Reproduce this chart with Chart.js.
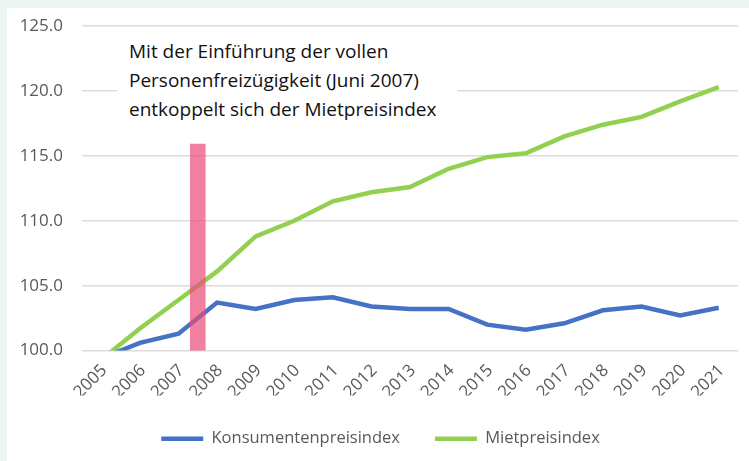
<!DOCTYPE html>
<html>
<head>
<meta charset="utf-8">
<script src="https://cdn.jsdelivr.net/npm/chart.js@4/dist/chart.umd.min.js"></script>
<style>
  html, body { margin:0; padding:0; }
  body { width:749px; height:461px; background:#eef6f2; position:relative; overflow:hidden; }
  #panel { position:absolute; left:7px; top:8px; width:742px; height:453px; background:#fff; }
  #note {
    position:absolute; left:117px; top:37px; width:340px; height:86px;
    background:#fff; padding-left:12px; box-sizing:border-box;
    font-family:"Open Sans", sans-serif; font-size:19px; line-height:29px; color:#111;
  }
</style>
</head>
<body>
<div id="panel"><canvas id="chart" width="742" height="453"></canvas></div>
<div id="note">Mit der Einführung der vollen<br>Personenfreizügigkeit (Juni 2007)<br>entkoppelt sich der Mietpreisindex</div>
<script>
// Konsumentenpreisindex vs. Mietpreisindex (2005 = 100)
const years = [2005,2006,2007,2008,2009,2010,2011,2012,2013,2014,2015,2016,2017,2018,2019,2020,2021];
const kpi   = [99.4,100.6,101.3,103.7,103.2,103.9,104.1,103.4,103.2,103.2,102.0,101.6,102.1,103.1,103.4,102.7,103.3];
const miete = [99.3,101.7,103.9,106.1,108.8,110.0,111.5,112.2,112.6,114.0,114.9,115.2,116.5,117.4,118.0,119.2,120.3];
const yTicks = [100,105,110,115,120,125];
// marker: Juni 2007, bar from 100 to ~115.9
const markerX = 2007.5;
const markerRange = [100, 115.9];

const gray = '#595959';
const font = size => ({ family:'"Open Sans", sans-serif', size });

// legend sits a bit right of centre in the original
const legendShift = {
  id: 'legendShift',
  afterLayout(chart) {
    chart.legend.left += 8;
    chart.legend.right += 8;
  }
};

new Chart(document.getElementById('chart'), {
  type: 'line',
  plugins: [legendShift],
  data: {
    datasets: [
      {
        type: 'bar',
        label: 'Personenfreizügigkeit',
        data: [{ x: markerX, y: markerRange }],
        backgroundColor: 'rgba(236,74,120,0.7)',
        barThickness: 15,
        order: 0
      },
      {
        label: 'Konsumentenpreisindex',
        data: years.map((y,i) => ({ x: y, y: kpi[i] })),
        borderColor: '#4472C4',
        backgroundColor: '#4472C4',
        borderWidth: 4.5,
        pointRadius: 0,
        tension: 0,
        clip: 0,
        order: 1
      },
      {
        label: 'Mietpreisindex',
        data: years.map((y,i) => ({ x: y, y: miete[i] })),
        borderColor: '#92D050',
        backgroundColor: '#92D050',
        borderWidth: 4.5,
        pointRadius: 0,
        tension: 0,
        clip: 0,
        order: 1
      }
    ]
  },
  options: {
    responsive: false,
    animation: false,
    layout: { padding: { top: 18, right: 11, left: 0, bottom: 4 } },
    plugins: {
      tooltip: { enabled: false },
      legend: {
        position: 'bottom',
        labels: {
          filter: item => item.datasetIndex > 0,
          usePointStyle: true,
          pointStyle: 'line',
          pointStyleWidth: 42,
          padding: 35,
          color: gray,
          font: font(16.5)
        }
      }
    },
    scales: {
      x: {
        type: 'linear',
        min: 2004.5,
        max: 2021.5,
        offset: false,
        grid: { display: false },
        border: { display: false },
        afterBuildTicks: s => { s.ticks = years.map(v => ({ value: v })); },
        afterFit: s => { s.height -= 9; },
        ticks: {
          autoSkip: false,
          minRotation: 45,
          maxRotation: 45,
          padding: 2,
          labelOffset: 3,
          color: gray,
          font: font(17),
          callback: v => String(v)
        }
      },
      y: {
        min: 100,
        max: 125,
        afterBuildTicks: s => { s.ticks = yTicks.map(v => ({ value: v })); },
        afterFit: s => { s.width = 75; s.paddingTop = 0; s.paddingBottom = 0; },
        grid: { color: '#dcdcdc', lineWidth: 1.5, drawTicks: false },
        border: { display: false },
        ticks: {
          padding: 19,
          color: gray,
          font: font(17),
          callback: v => v.toFixed(1)
        }
      }
    }
  }
});
</script>
</body>
</html>
